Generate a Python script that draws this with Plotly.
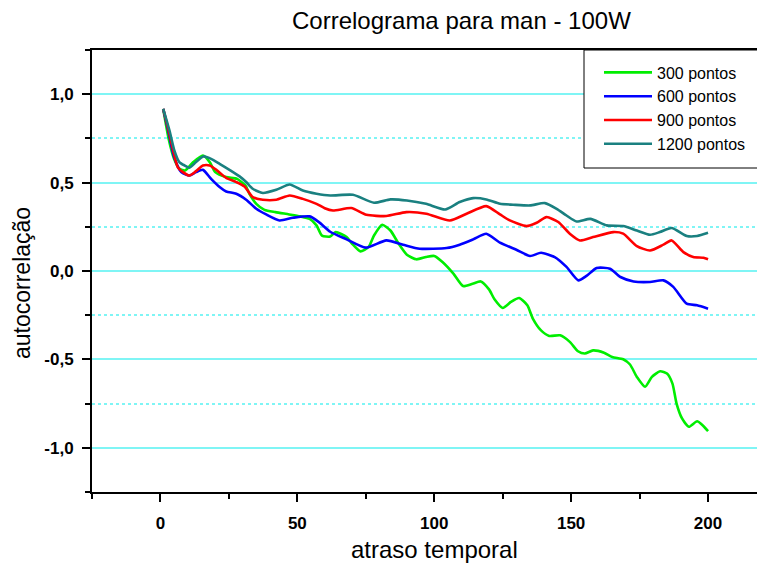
import plotly.graph_objects as go

# ---- data ----
lag_300 = [1, 3, 5, 7, 9, 12, 15.5, 18, 20, 24, 28, 31, 32.5, 35, 38, 42, 47, 51, 54.5, 57, 59, 62, 64, 68, 70, 73,
           76, 78, 81, 84, 87, 90, 93.5, 97, 100, 103, 107, 110.5, 114, 117, 120, 122, 125, 128, 131, 134, 136, 139,
           142, 146, 149.5, 152.5, 155, 158, 162, 165, 169, 171.5, 174, 177, 179.5, 182.5, 185, 187, 188.5, 190.5,
           193, 196, 198, 200]
ac_300 = [0.917, 0.747, 0.634, 0.578, 0.568, 0.616, 0.653, 0.616, 0.559, 0.531, 0.521, 0.484, 0.437, 0.380, 0.346,
          0.333, 0.320, 0.309, 0.295, 0.258, 0.200, 0.195, 0.220, 0.192, 0.154, 0.111, 0.136, 0.201, 0.262, 0.229,
          0.154, 0.092, 0.066, 0.079, 0.085, 0.051, -0.015, -0.085, -0.072, -0.059, -0.104, -0.160, -0.209, -0.175,
          -0.153, -0.194, -0.269, -0.336, -0.367, -0.364, -0.401, -0.454, -0.467, -0.449, -0.462, -0.486, -0.499,
          -0.529, -0.599, -0.655, -0.599, -0.567, -0.580, -0.637, -0.750, -0.834, -0.881, -0.850, -0.872, -0.906]

lag_600 = [1, 2.7, 5, 7.6, 10.6, 13, 15.5, 18.5, 21.6, 24, 27.7, 31.3, 35, 38.6, 43.5, 48.4, 54.5, 58, 62, 68, 75,
           82.5, 88.6, 94.7, 104.5, 109.3, 114.2, 119, 124, 130, 135, 139, 144, 148.3, 152.6, 155.6, 159.3, 164.2,
           168, 172.8, 178.8, 183.7, 187.3, 192.2, 196, 200]
ac_600 = [0.917, 0.804, 0.644, 0.559, 0.540, 0.559, 0.572, 0.521, 0.475, 0.450, 0.437, 0.403, 0.352, 0.320, 0.286,
          0.301, 0.309, 0.275, 0.222, 0.179, 0.132, 0.173, 0.149, 0.126, 0.130, 0.149, 0.179, 0.211, 0.160, 0.120,
          0.085, 0.103, 0.079, 0.023, -0.053, -0.028, 0.017, 0.013, -0.034, -0.059, -0.062, -0.053, -0.090, -0.185,
          -0.194, -0.213]

lag_900 = [1, 2.7, 4.5, 6.3, 8.2, 10.6, 13, 15.5, 18, 20.4, 24, 27.7, 30.7, 33.7, 37.4, 42.3, 47.2, 52, 57, 60, 63,
           69.7, 75.2, 82.5, 89.8, 97.1, 105.7, 111.8, 119, 124, 127.6, 133.7, 137.4, 141, 145.3, 149.5, 153.2, 158,
           165.4, 169, 174, 178.8, 183.7, 186.7, 191, 194.6, 198.3, 200]
ac_900 = [0.917, 0.813, 0.691, 0.588, 0.559, 0.540, 0.565, 0.597, 0.597, 0.572, 0.527, 0.503, 0.478, 0.418, 0.403,
          0.403, 0.427, 0.408, 0.380, 0.355, 0.342, 0.356, 0.318, 0.311, 0.333, 0.324, 0.286, 0.324, 0.367, 0.320,
          0.286, 0.254, 0.273, 0.305, 0.277, 0.211, 0.173, 0.192, 0.220, 0.211, 0.141, 0.116, 0.149, 0.173, 0.107,
          0.079, 0.075, 0.066]

lag_1200 = [1, 3.3, 5.1, 6.9, 8.8, 10.6, 13, 15.7, 18.5, 21.6, 25.2, 28.9, 31.3, 33.7, 37.4, 42.3, 47.2, 52, 57, 62,
            70.3, 78, 84, 90, 97, 104, 109.3, 114.2, 119, 124, 128.8, 135, 140.4, 144.7, 148.3, 152, 157, 163, 169,
            174, 178.8, 182.4, 186.7, 192.2, 196, 200]
ac_1200 = [0.917, 0.794, 0.681, 0.616, 0.597, 0.584, 0.616, 0.648, 0.634, 0.606, 0.572, 0.535, 0.503, 0.465, 0.441,
           0.459, 0.489, 0.455, 0.437, 0.427, 0.431, 0.386, 0.405, 0.399, 0.380, 0.348, 0.390, 0.412, 0.405, 0.380,
           0.375, 0.371, 0.384, 0.352, 0.314, 0.280, 0.295, 0.258, 0.254, 0.229, 0.205, 0.220, 0.243, 0.198, 0.198,
           0.216]

series_names = ["300 pontos", "600 pontos", "900 pontos", "1200 pontos"]
series_colors = ["#00ee00", "#0000ff", "#ff0000", "#1a8080"]
series_x = [lag_300, lag_600, lag_900, lag_1200]
series_y = [ac_300, ac_600, ac_900, ac_1200]

x_tick_vals = [0, 50, 100, 150, 200]
y_tick_vals = [-1.0, -0.5, 0.0, 0.5, 1.0]
y_tick_text = ["-1,0", "-0,5", "0,0", "0,5", "1,0"]

FONT = "Liberation Sans, Arial, sans-serif"

# page body has an 8px margin; plot area spans x 92..765, y 50..492 on screen
L, T, W, H = 92, 50, 673, 442


def px(xa):
    return (xa - L) / W


def py(ya):
    return 1 - (ya - T) / H


fig = go.Figure()
for name, col, xs, ys in zip(series_names, series_colors, series_x, series_y):
    fig.add_trace(go.Scatter(x=xs, y=ys, mode="lines", name=name,
                             line=dict(color=col, width=2.6, shape="spline", smoothing=0.6)))

fig.update_layout(
    width=757, height=555,
    margin=dict(l=84, r=0, t=42, b=71, pad=0),
    paper_bgcolor="white", plot_bgcolor="white",
    font=dict(family=FONT, color="black"),
    showlegend=True,
    legend=dict(x=px(599), y=py(55.5), xanchor="left", yanchor="top",
                bgcolor="rgba(0,0,0,0)", borderwidth=0,
                font=dict(size=16, family=FONT), itemwidth=48,
                tracegroupgap=0),
    shapes=[dict(type="rect", xref="paper", yref="paper", x0=px(584), x1=1.03, y0=py(168), y1=1,
                 fillcolor="white", line=dict(color="black", width=1), layer="above")],
    annotations=[
        dict(text="Correlograma para man - 100W", x=px(461), y=py(20), xref="paper", yref="paper",
             showarrow=False, font=dict(size=24, family=FONT), xanchor="center", yanchor="middle"),
        dict(text="atraso temporal", x=px(434), y=py(549), xref="paper", yref="paper", showarrow=False,
             font=dict(size=24, family=FONT), xanchor="center", yanchor="middle"),
        dict(text="autocorrelação", x=px(22), y=py(283), xref="paper", yref="paper", showarrow=False,
             textangle=-90, font=dict(size=23, family=FONT), xanchor="center", yanchor="middle"),
    ],
)

fig.update_xaxes(
    range=[-25, 220.8], showgrid=False, zeroline=False,
    showline=True, linecolor="black", linewidth=2, mirror=True,
    ticks="outside", ticklen=8, tickwidth=1.5, tickcolor="black",
    tickvals=x_tick_vals, ticklabelstandoff=7,
    tickfont=dict(size=17, family=FONT, weight="bold"),
    minor=dict(tickvals=[-25, 25, 75, 125, 175, 225], ticks="outside", ticklen=5, tickwidth=1.5,
               tickcolor="black", showgrid=False),
)
fig.update_yaxes(
    range=[-1.25, 1.25], zeroline=False,
    showline=True, linecolor="black", linewidth=2,
    showgrid=True, gridcolor="#7ff5f5", gridwidth=1.5,
    ticks="outside", ticklen=8, tickwidth=1.5, tickcolor="black",
    tickvals=y_tick_vals, ticktext=y_tick_text, ticklabelstandoff=5,
    tickfont=dict(size=17, family=FONT, weight="bold"),
    minor=dict(tickvals=[-1.25, -0.75, -0.25, 0.25, 0.75, 1.25], ticks="outside", ticklen=5, tickwidth=1.5,
               tickcolor="black", showgrid=True, gridcolor="#7ff5f5", griddash="dot", gridwidth=1.5),
)

fig.write_html("out.html")
